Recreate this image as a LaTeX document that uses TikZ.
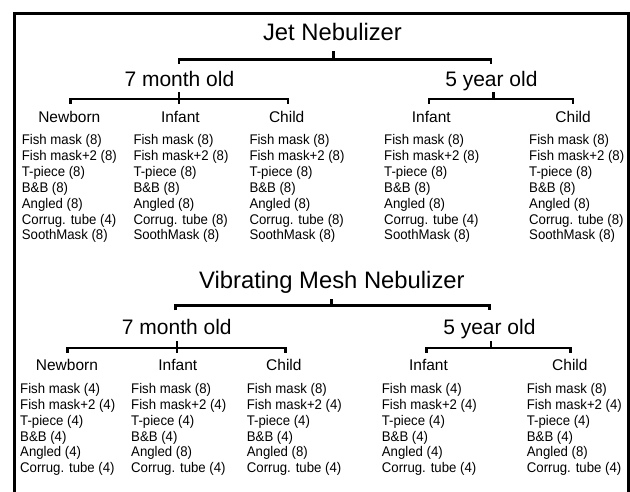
\documentclass[tikz,border=0pt]{standalone}
\usepackage{fontspec}
\setmainfont{Liberation Sans}
\tikzset{
  ttl/.style={anchor=base, inner sep=0pt, font=\fontsize{23.8}{28}\selectfont},
  lvtwo/.style={anchor=base, inner sep=0pt, font=\fontsize{21}{25}\selectfont},
  lvthree/.style={anchor=base, inner sep=0pt, font=\fontsize{15.5}{18}\selectfont},
  itm/.style={anchor=base west, inner sep=0pt, font=\fontsize{13.2}{15}\selectfont},
  br/.style={line width=2.5pt, line join=miter},
  frm/.style={line width=3pt}
}
\newcommand{\itemcol}[4]{%
  \foreach \t [count=\i from 0] in {#4} {
    \node[itm] (#1\i) at (#2, #3+15.9*\i) {\scalebox{1}[1.06]{\t}};
  }%
}
\begin{document}
\begin{tikzpicture}[x=1pt,y=-1pt]
\useasboundingbox (0,0) rectangle (630,491);
\fill[white] (0,0) rectangle (630,491);
% frame
\draw[frm] (14.2,500) -- (14.2,13.5) -- (628.3,13.5) -- (628.3,500);

%%%%%%%%%%%%%%%% Jet Nebulizer
\node[ttl] (jt) at (332.5,40) {Jet Nebulizer};
\node[lvtwo] (j7) at (179.4,86) {7 month old};
\node[lvtwo] (j5) at (491.4,86) {5 year old};
\node[lvthree] (jnb) at (69.3,122) {Newborn};
\node[lvthree] (jin) at (180.4,122) {Infant};
\node[lvthree] (jch) at (286.7,122) {Child};
\node[lvthree] (jin5) at (431.3,122) {Infant};
\node[lvthree] (jch5) at (573.1,122) {Child};

% bracket level 1
\coordinate (jtTop) at (333.5,50.7);
\coordinate (jtMid) at (333.5,59.5);
\coordinate (jtL) at (178.8,63.5);
\coordinate (jtR) at (491.0,63.5);
\draw[br] (jtL) |- (jtMid) -| (jtR);
\draw[br] (jtMid) -- (jtTop);
% bracket 7 month old
\coordinate (j7Top) at (178.8,92);
\coordinate (j7Mid) at (178.8,99);
\coordinate (j7Bot) at (178.8,103.5);
\coordinate (j7L) at (70.3,103.5);
\coordinate (j7R) at (288.1,103.5);
\draw[br] (j7L) |- (j7Mid) -| (j7R);
\draw[br] (j7Top) -- (j7Bot);
% bracket 5 year old
\coordinate (j5Top) at (493.4,92);
\coordinate (j5Mid) at (493.4,99);
\coordinate (j5L) at (429.1,103.5);
\coordinate (j5R) at (572.9,103.5);
\draw[br] (j5L) |- (j5Mid) -| (j5R);
\draw[br] (j5Mid) -- (j5Top);

\itemcol{ja}{21.7}{144.5}{Fish mask (8),Fish mask+2 (8),T-piece (8),B\&B (8),Angled (8),Corrug. tube (4),SoothMask (8)}
\itemcol{jb}{133.3}{144.5}{Fish mask (8),Fish mask+2 (8),T-piece (8),B\&B (8),Angled (8),Corrug. tube (8),SoothMask (8)}
\itemcol{jc}{249.3}{144.5}{Fish mask (8),Fish mask+2 (8),T-piece (8),B\&B (8),Angled (8),Corrug. tube (8),SoothMask (8)}
\itemcol{jd}{384}{144.5}{Fish mask (8),Fish mask+2 (8),T-piece (8),B\&B (8),Angled (8),Corrug. tube (4),SoothMask (8)}
\itemcol{je}{529}{144.5}{Fish mask (8),Fish mask+2 (8),T-piece (8),B\&B (8),Angled (8),Corrug. tube (8),SoothMask (8)}

%%%%%%%%%%%%%%%% Vibrating Mesh Nebulizer
\node[ttl] (vt) at (331.9,288.3) {Vibrating Mesh Nebulizer};
\node[lvtwo] (v7) at (176.8,334) {7 month old};
\node[lvtwo] (v5) at (489.4,334) {5 year old};
\node[lvthree] (vnb) at (66.9,370) {Newborn};
\node[lvthree] (vin) at (177.8,370) {Infant};
\node[lvthree] (vch) at (283.9,370) {Child};
\node[lvthree] (vin5) at (428.5,370) {Infant};
\node[lvthree] (vch5) at (569.9,370) {Child};

\coordinate (vtTop) at (331.5,298.5);
\coordinate (vtMid) at (331.5,305.5);
\coordinate (vtL) at (175.6,310);
\coordinate (vtR) at (489.4,310);
\draw[br] (vtL) |- (vtMid) -| (vtR);
\draw[br] (vtMid) -- (vtTop);

\coordinate (v7Top) at (176.8,341);
\coordinate (v7Mid) at (176.8,348);
\coordinate (v7Bot) at (176.8,352.5);
\coordinate (v7L) at (67.5,352.5);
\coordinate (v7R) at (285.3,352.5);
\draw[br] (v7L) |- (v7Mid) -| (v7R);
\draw[br] (v7Top) -- (v7Bot);

\coordinate (v5Top) at (491,341);
\coordinate (v5Mid) at (491,348);
\coordinate (v5L) at (426.7,352.5);
\coordinate (v5R) at (570.5,352.5);
\draw[br] (v5L) |- (v5Mid) -| (v5R);
\draw[br] (v5Mid) -- (v5Top);

\itemcol{va}{20}{393.3}{Fish mask (4),Fish mask+2 (4),T-piece (4),B\&B (4),Angled (4),Corrug. tube (4)}
\itemcol{vb}{131}{393.3}{Fish mask (8),Fish mask+2 (4),T-piece (4),B\&B (4),Angled (8),Corrug. tube (4)}
\itemcol{vc}{246.7}{393.3}{Fish mask (8),Fish mask+2 (4),T-piece (4),B\&B (4),Angled (8),Corrug. tube (4)}
\itemcol{vd}{381.7}{393.3}{Fish mask (4),Fish mask+2 (4),T-piece (4),B\&B (4),Angled (4),Corrug. tube (4)}
\itemcol{ve}{526.7}{393.3}{Fish mask (8),Fish mask+2 (4),T-piece (4),B\&B (4),Angled (8),Corrug. tube (4)}
\end{tikzpicture}
\end{document}
